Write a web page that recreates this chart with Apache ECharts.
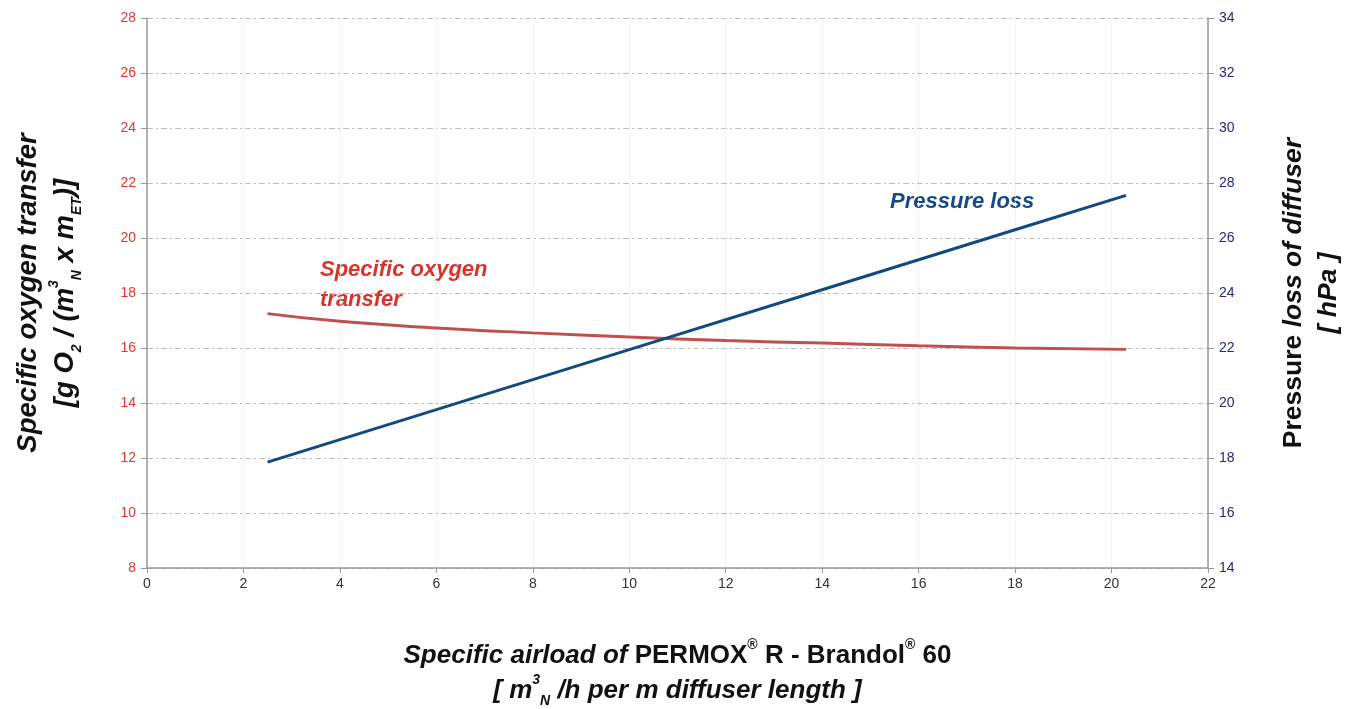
<!DOCTYPE html>
<html><head><meta charset="utf-8">
<script src="https://cdn.jsdelivr.net/npm/echarts@6/dist/echarts.min.js"></script>
<style>html,body{margin:0;padding:0;background:#fff}#c{width:1353px;height:709px}</style>
</head><body><div id="c"></div>
<script>
const xTicks = [0,2,4,6,8,10,12,14,16,18,20,22];
const oxygenX = [2.5, 4, 6, 8, 10, 12, 14, 16, 18, 20.3];
const oxygenY = [17.25, 16.97, 16.73, 16.55, 16.40, 16.27, 16.18, 16.08, 16.00, 15.95];
const pressureX = [2.5, 6, 10, 14, 18, 20.3];
const pressureY = [17.85, 19.76, 21.94, 24.12, 26.30, 27.55];

const FONT = '"Liberation Sans Narrow", "Liberation Sans", Arial, sans-serif';
const TF = '"Liberation Sans", Arial, sans-serif';
function makeRich(big) {
  return {
    bi: {fontFamily: FONT, fontSize: big, fontWeight: 'bold', fontStyle: 'italic', color: '#111'},
    b: {fontFamily: FONT, fontSize: big, fontWeight: 'bold', color: '#111'},
    sup: {fontFamily: FONT, fontSize: 14, fontWeight: 'bold', fontStyle: 'italic', color: '#111', verticalAlign: 'top'},
    sub: {fontFamily: FONT, fontSize: 14, fontWeight: 'bold', fontStyle: 'italic', color: '#111', verticalAlign: 'bottom'},
    supu: {fontFamily: FONT, fontSize: 14, fontWeight: 'bold', color: '#111', verticalAlign: 'top'}
  };
}

const chart = echarts.init(document.getElementById('c'));
const gridH = {type: [6,3,2,3], color: '#bdbdbd', width: 1};
chart.setOption({
  animation: false,
  grid: {left: 147, right: 145, top: 18, bottom: 141, containLabel: false, outerBoundsMode: 'none'},
  xAxis: {
    type: 'value', min: 0, max: 22, interval: 2,
    axisLine: {show: true, lineStyle: {color: '#999', width: 1.5}},
    axisTick: {show: true, length: 5, lineStyle: {color: '#999'}},
    axisLabel: {color: '#333', fontFamily: TF, fontSize: 14, margin: 9},
    splitLine: {show: true, lineStyle: {type: 'dotted', color: '#e6e6e6'}},
    name: '{bi|Specific airload of }{b|PERMOX}{supu|®}{b| R - Brandol}{supu|®}{b| 60}\n{bi|[ m}{sup|3}{sub|N}{bi| /h per m diffuser length ]}',
    nameLocation: 'middle', nameGap: 70,
    nameTextStyle: {rich: makeRich(26), lineHeight: 35, align: 'center'}
  },
  yAxis: [{
    type: 'value', min: 8, max: 28, interval: 2, position: 'left',
    axisLine: {show: true, lineStyle: {color: '#999', width: 1.5}},
    axisTick: {show: true, length: 6, lineStyle: {color: '#999'}},
    axisLabel: {color: '#e03a2f', fontFamily: TF, fontSize: 14, margin: 11},
    splitLine: {show: true, lineStyle: gridH},
    name: '{bi|Specific oxygen transfer}\n{bi|[g O}{sub|2}{bi| / (m}{sup|3}{sub|N}{bi| x m}{sub|ET}{bi|)]}',
    nameLocation: 'middle', nameRotate: 90, nameGap: 63,
    nameTextStyle: {rich: makeRich(27.5), lineHeight: 37, align: 'center'}
  }, {
    type: 'value', min: 14, max: 34, interval: 2, position: 'right',
    axisLine: {show: true, lineStyle: {color: '#999', width: 1.5}},
    axisTick: {show: true, length: 6, lineStyle: {color: '#999'}},
    axisLabel: {color: '#1f2a78', fontFamily: TF, fontSize: 14, margin: 11},
    splitLine: {show: false},
    name: '{b|Pressure }{bi|loss of diffuser}\n{bi|[ hPa ]}',
    nameLocation: 'middle', nameRotate: 90, nameGap: 68,
    nameTextStyle: {rich: makeRich(26.5), lineHeight: 35, align: 'center'}
  }],
  series: [{
    type: 'line', yAxisIndex: 0, smooth: true, symbol: 'none',
    data: oxygenX.map((x, i) => [x, oxygenY[i]]),
    lineStyle: {color: '#c0504d', width: 3}
  }, {
    type: 'line', yAxisIndex: 1, symbol: 'none',
    data: pressureX.map((x, i) => [x, pressureY[i]]),
    lineStyle: {color: '#124a80', width: 3}
  }],
  graphic: [{
    type: 'text', left: 320, top: 255,
    style: {text: 'Specific oxygen\ntransfer', fill: '#d9342b', fontFamily: TF, fontSize: 22, fontWeight: 'bold', fontStyle: 'italic', lineHeight: 30}
  }, {
    type: 'text', left: 890, top: 191,
    style: {text: 'Pressure loss', fill: '#174a85', fontFamily: TF, fontSize: 22, fontWeight: 'bold', fontStyle: 'italic'}
  }]
});
</script></body></html>
